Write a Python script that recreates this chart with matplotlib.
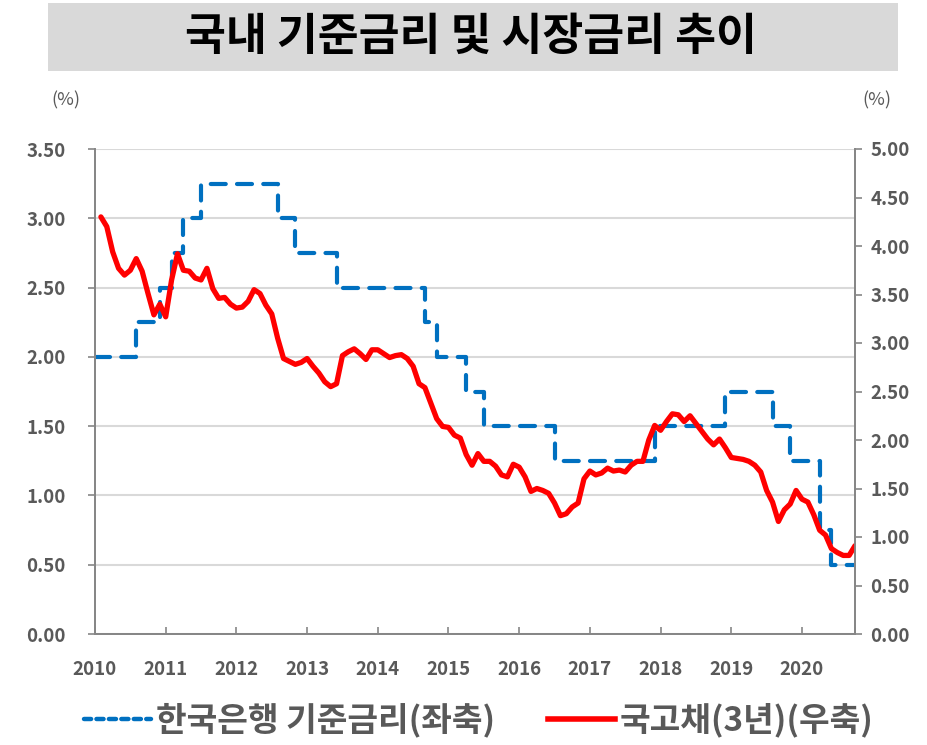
import matplotlib
matplotlib.use("Agg")
import matplotlib.pyplot as plt
import numpy as np
import pandas as pd
from matplotlib.patches import Rectangle
from matplotlib.lines import Line2D

plt.rcParams['font.family'] = ['Noto Sans CJK KR', 'DejaVu Sans']

# ---- data ----
# BOK base rate, month-end, Dec 2009 .. Sep 2020 (left axis)
base_start = "2009-12"
base_rate = ([2.00] * 7 + [2.25] * 4 + [2.50] * 2 + [2.75] * 2 + [3.00] * 3 +
             [3.25] * 13 + [3.00] * 3 + [2.75] * 7 + [2.50] * 15 + [2.25] * 2 +
             [2.00] * 5 + [1.75] * 3 + [1.50] * 12 + [1.25] * 17 + [1.50] * 12 +
             [1.75] * 8 + [1.50] * 3 + [1.25] * 5 + [0.75] * 2 + [0.50] * 5)

# 3-year KTB yield, monthly, Jan 2010 .. Sep 2020 (right axis)
ktb_start = "2010-01"
ktb3y = [4.30, 4.20, 3.94, 3.77, 3.70, 3.75, 3.87, 3.74, 3.51, 3.29, 3.40, 3.27,
         3.65, 3.92, 3.75, 3.74, 3.67, 3.65, 3.77, 3.56, 3.46, 3.47, 3.40, 3.36,
         3.37, 3.43, 3.55, 3.51, 3.39, 3.30, 3.05, 2.84, 2.81, 2.78, 2.80, 2.84,
         2.76, 2.69, 2.60, 2.55, 2.58, 2.87, 2.91, 2.94, 2.89, 2.83, 2.93, 2.93,
         2.89, 2.85, 2.87, 2.88, 2.84, 2.76, 2.58, 2.54, 2.38, 2.22, 2.14, 2.13,
         2.05, 2.02, 1.85, 1.74, 1.86, 1.78, 1.78, 1.73, 1.64, 1.62, 1.75, 1.72,
         1.62, 1.47, 1.50, 1.48, 1.45, 1.35, 1.22, 1.24, 1.31, 1.35, 1.60, 1.68,
         1.64, 1.66, 1.71, 1.68, 1.69, 1.67, 1.74, 1.78, 1.78, 2.00, 2.15, 2.10,
         2.19, 2.27, 2.26, 2.19, 2.25, 2.17, 2.09, 2.01, 1.95, 2.01, 1.92, 1.82,
         1.81, 1.80, 1.78, 1.74, 1.67, 1.48, 1.36, 1.16, 1.28, 1.34, 1.48, 1.39,
         1.36, 1.23, 1.07, 1.02, 0.88, 0.84, 0.81, 0.81, 0.91]

years = list(range(2010, 2021))
left_ticks = [0.0, 0.5, 1.0, 1.5, 2.0, 2.5, 3.0, 3.5]
right_ticks = [0.0, 0.5, 1.0, 1.5, 2.0, 2.5, 3.0, 3.5, 4.0, 4.5, 5.0]

title = "국내 기준금리 및 시장금리 추이"
label_base = "한국은행 기준금리(좌축)"
label_ktb = "국고채(3년)(우축)"


def month_end_x(start, n):
    d = pd.period_range(start, periods=n, freq="M")
    return np.array([p.year + p.month / 12 for p in d])


x_base = month_end_x(base_start, len(base_rate))
x_ktb = month_end_x(ktb_start, len(ktb3y))

# ---- figure ----
W, H = 928, 745
fig = plt.figure(figsize=(W / 100, H / 100), dpi=100)
fig.patch.set_facecolor("white")

# title box
fig.patches.append(Rectangle((48 / W, 1 - 71 / H), 850 / W, 68 / H,
                             transform=fig.transFigure, facecolor="#d9d9d9",
                             edgecolor="none", zorder=0))
fig.text(0.508, 1 - 37 / H, title, ha="center", va="center", fontsize=32,
         fontweight="bold", color="#000000")

ax = fig.add_axes([95 / W, 1 - 634 / H, 760 / W, 485 / H])
ax2 = ax.twinx()

grey = "#595959"
spine_c = "#868686"

ax.set_xlim(2010, 2020.75)
ax.set_ylim(0, 3.5)
ax2.set_ylim(0, 5.0)

ax.set_yticks(left_ticks)
ax.set_yticklabels([f"{v:.2f}" for v in left_ticks])
ax2.set_yticks(right_ticks)
ax2.set_yticklabels([f"{v:.2f}" for v in right_ticks])
ax.set_xticks(years + [2020.75])
ax.set_xticklabels([str(y) for y in years] + [""])

ax.grid(axis="y", color="#d9d9d9", linewidth=1.5)
ax.set_axisbelow(True)

for a in (ax, ax2):
    a.spines["top"].set_visible(False)
    for s in ("left", "right", "bottom"):
        a.spines[s].set_color(spine_c)
        a.spines[s].set_linewidth(1.3)

ax.tick_params(axis="y", direction="out", length=5, width=1.2, color=spine_c,
               labelsize=13.5, labelcolor=grey, pad=16)
ax2.tick_params(axis="y", direction="out", length=5, width=1.2, color=spine_c,
                labelsize=13.5, labelcolor=grey, pad=6)
ax.tick_params(axis="x", direction="in", length=5, width=1.2, color=spine_c,
               labelsize=13.5, labelcolor=grey, pad=19)
for lab in ax.get_yticklabels() + ax2.get_yticklabels() + ax.get_xticklabels():
    lab.set_fontweight("bold")

blue = "#0070c0"
red = "#ff0000"
ax.plot(x_base, base_rate, drawstyle="steps-post", color=blue, linewidth=3.0,
        linestyle=(0, (3.6, 2.7)), dash_capstyle="round", solid_joinstyle="round")
ax2.plot(x_ktb, ktb3y, color=red, linewidth=3.8, solid_joinstyle="round",
         solid_capstyle="round")

fig.text(66 / W, 1 - 100 / H, "(%)", ha="center", va="center", fontsize=13,
         color=grey)
fig.text(877 / W, 1 - 100 / H, "(%)", ha="center", va="center", fontsize=13,
         color=grey)

handles = [Line2D([], [], color=blue, linewidth=3.2, linestyle=(0, (1.6, 1.2)),
                  dash_capstyle="round"),
           Line2D([], [], color=red, linewidth=4.0)]
leg = fig.legend(handles, [label_base, label_ktb], loc="center",
                 bbox_to_anchor=(479 / W, 1 - 720 / H), ncol=2, frameon=False,
                 fontsize=24, handlelength=2.0, handletextpad=0.15,
                 columnspacing=1.6)
for t in leg.get_texts():
    t.set_color(grey)
    t.set_fontweight("bold")

fig.savefig("out.png", dpi=100)
